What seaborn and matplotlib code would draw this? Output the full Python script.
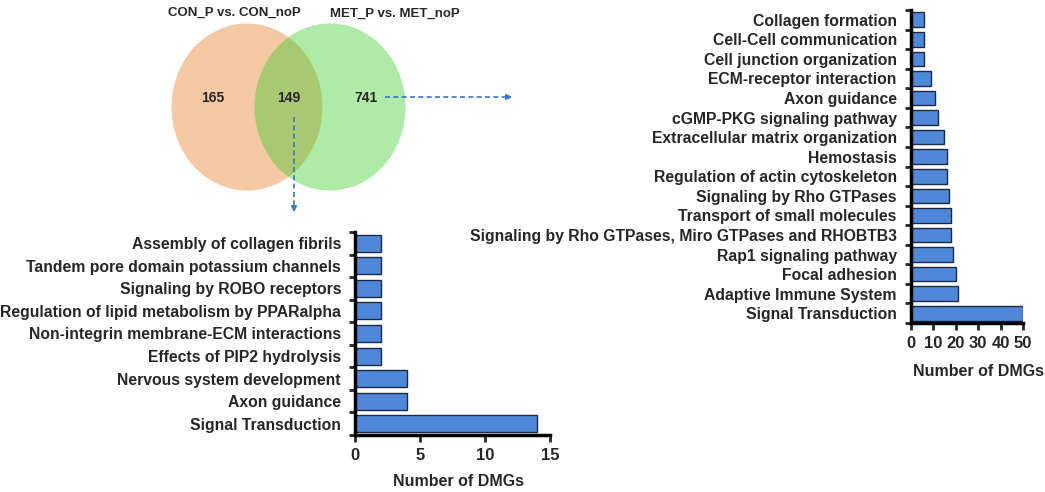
import matplotlib
matplotlib.use("Agg")
import matplotlib.pyplot as plt
from matplotlib.patches import Ellipse
from matplotlib import font_manager
import seaborn as sns
import pandas as pd

# ---- data ----
venn_titles = ["CON_P vs. CON_noP", "MET_P vs. MET_noP"]
venn_counts = [165, 149, 741]

left_terms = ["Assembly of collagen fibrils", "Tandem pore domain potassium channels",
              "Signaling by ROBO receptors", "Regulation of lipid metabolism by PPARalpha",
              "Non-integrin membrane-ECM interactions", "Effects of PIP2 hydrolysis",
              "Nervous system development", "Axon guidance", "Signal Transduction"]
left_values = [2, 2, 2, 2, 2, 2, 4, 4, 14]
left_xticks = [0, 5, 10, 15]

right_terms = ["Collagen formation", "Cell-Cell communication", "Cell junction organization",
               "ECM-receptor interaction", "Axon guidance", "cGMP-PKG signaling pathway",
               "Extracellular matrix organization", "Hemostasis",
               "Regulation of actin cytoskeleton", "Signaling by Rho GTPases",
               "Transport of small molecules",
               "Signaling by Rho GTPases, Miro GTPases and RHOBTB3",
               "Rap1 signaling pathway", "Focal adhesion", "Adaptive Immune System",
               "Signal Transduction"]
right_values = [6, 6, 6, 9, 11, 12, 15, 16, 16, 17, 18, 18, 19, 20, 21, 50]
right_xticks = [0, 10, 20, 30, 40, 50]

xlabel = "Number of DMGs"

# ---- style ----
sns.set_style("ticks")
plt.rcParams['font.family'] = ['Liberation Sans', 'DejaVu Sans']
plt.rcParams['font.weight'] = 'bold'

names = {f.name for f in font_manager.fontManager.ttflist}
has_narrow = 'Liberation Sans Narrow' in names
narrow = ['Liberation Sans Narrow', 'Liberation Sans'] if has_narrow else ['Liberation Sans']
title_fs = 11 if has_narrow else 9.5
num_fs = 11.5 if has_narrow else 10

W, H = 1045, 492
fig = plt.figure(figsize=(W / 100, H / 100), dpi=100)

# overlay axes in pixel coordinates for venn + arrows
ax0 = fig.add_axes([0, 0, 1, 1])
ax0.set_xlim(0, W)
ax0.set_ylim(H, 0)
ax0.axis('off')
ax0.set_zorder(0)

peach = "#f5c9a4"
green = "#aeeba6"
overlap = "#a8c972"
e1 = Ellipse((247, 107), 151, 167, facecolor=peach, edgecolor='none')
e2 = Ellipse((330, 107), 151, 167, facecolor=green, edgecolor='none')
ax0.add_patch(e1)
ax0.add_patch(e2)
e3 = Ellipse((330, 107), 151, 167, facecolor=overlap, edgecolor='none')
ax0.add_patch(e3)
e3.set_clip_path(e1)

ax0.text(234, 13, venn_titles[0], ha='center', va='center', fontsize=title_fs,
         fontweight='bold', family=narrow)
ax0.text(395, 14, venn_titles[1], ha='center', va='center', fontsize=title_fs,
         fontweight='bold', family=narrow)
for xp, c in zip([213, 289, 366], venn_counts):
    ax0.text(xp, 98, str(c), ha='center', va='center', fontsize=num_fs,
             fontweight='bold', family=narrow)

acol = "#3a76c4"
ax0.plot([385, 507], [97, 97], ls=(0, (3, 2)), color=acol, lw=1.2)
ax0.annotate('', xy=(515, 97), xytext=(505, 97),
             arrowprops=dict(arrowstyle='-|>', color=acol, lw=1.2, mutation_scale=8))
ax0.plot([294, 294], [117, 207], ls=(0, (3, 2)), color=acol, lw=1.2)
ax0.annotate('', xy=(294, 215), xytext=(294, 205),
             arrowprops=dict(arrowstyle='-|>', color=acol, lw=1.2, mutation_scale=8))

bar_fill = "#4f88d8"
bar_edge = "#1c2a44"


def bar_panel(rect, terms, values, xticks, labelpad, lab_x):
    ax = fig.add_axes(rect)
    df = pd.DataFrame({"term": terms, "value": values})
    sns.barplot(data=df, x="value", y="term", orient='h', ax=ax, color=bar_fill,
                edgecolor=bar_edge, linewidth=1.0, width=0.75, saturation=1)
    n = len(terms)
    ax.set_ylim(n - 0.5, -0.5)
    ax.set_xlim(0, xticks[-1])
    ax.set_xticks(xticks)
    ax.set_xticklabels([str(t) for t in xticks], fontsize=12, fontweight='bold')
    ax.set_yticks(range(n))
    ax.set_yticklabels(terms, fontsize=11.3, fontweight='bold')
    ax.tick_params(axis='y', which='major', length=0, pad=10)
    ax.set_yticks([i - 0.5 for i in range(n + 1)], minor=True)
    ax.tick_params(axis='y', which='minor', length=4, width=2)
    ax.tick_params(axis='x', which='major', length=5, width=2, pad=4)
    for s in ['top', 'right']:
        ax.spines[s].set_visible(False)
    for s in ['left', 'bottom']:
        ax.spines[s].set_linewidth(2.5)
        ax.spines[s].set_color('black')
    ax.set_ylabel('')
    ax.set_xlabel(xlabel, fontsize=11.5, fontweight='bold', labelpad=labelpad, x=lab_x)
    ax.patch.set_alpha(0)
    ax.set_zorder(2)
    return ax


axl = bar_panel([355 / W, 1 - 435 / H, 195 / W, 203 / H], left_terms, left_values,
                left_xticks, 8, 0.53)
axr = bar_panel([910.7 / W, 1 - 323 / H, 112.3 / W, 313 / H], right_terms, right_values,
                right_xticks, 10, 0.6)

fig.savefig("out.png", dpi=100)
